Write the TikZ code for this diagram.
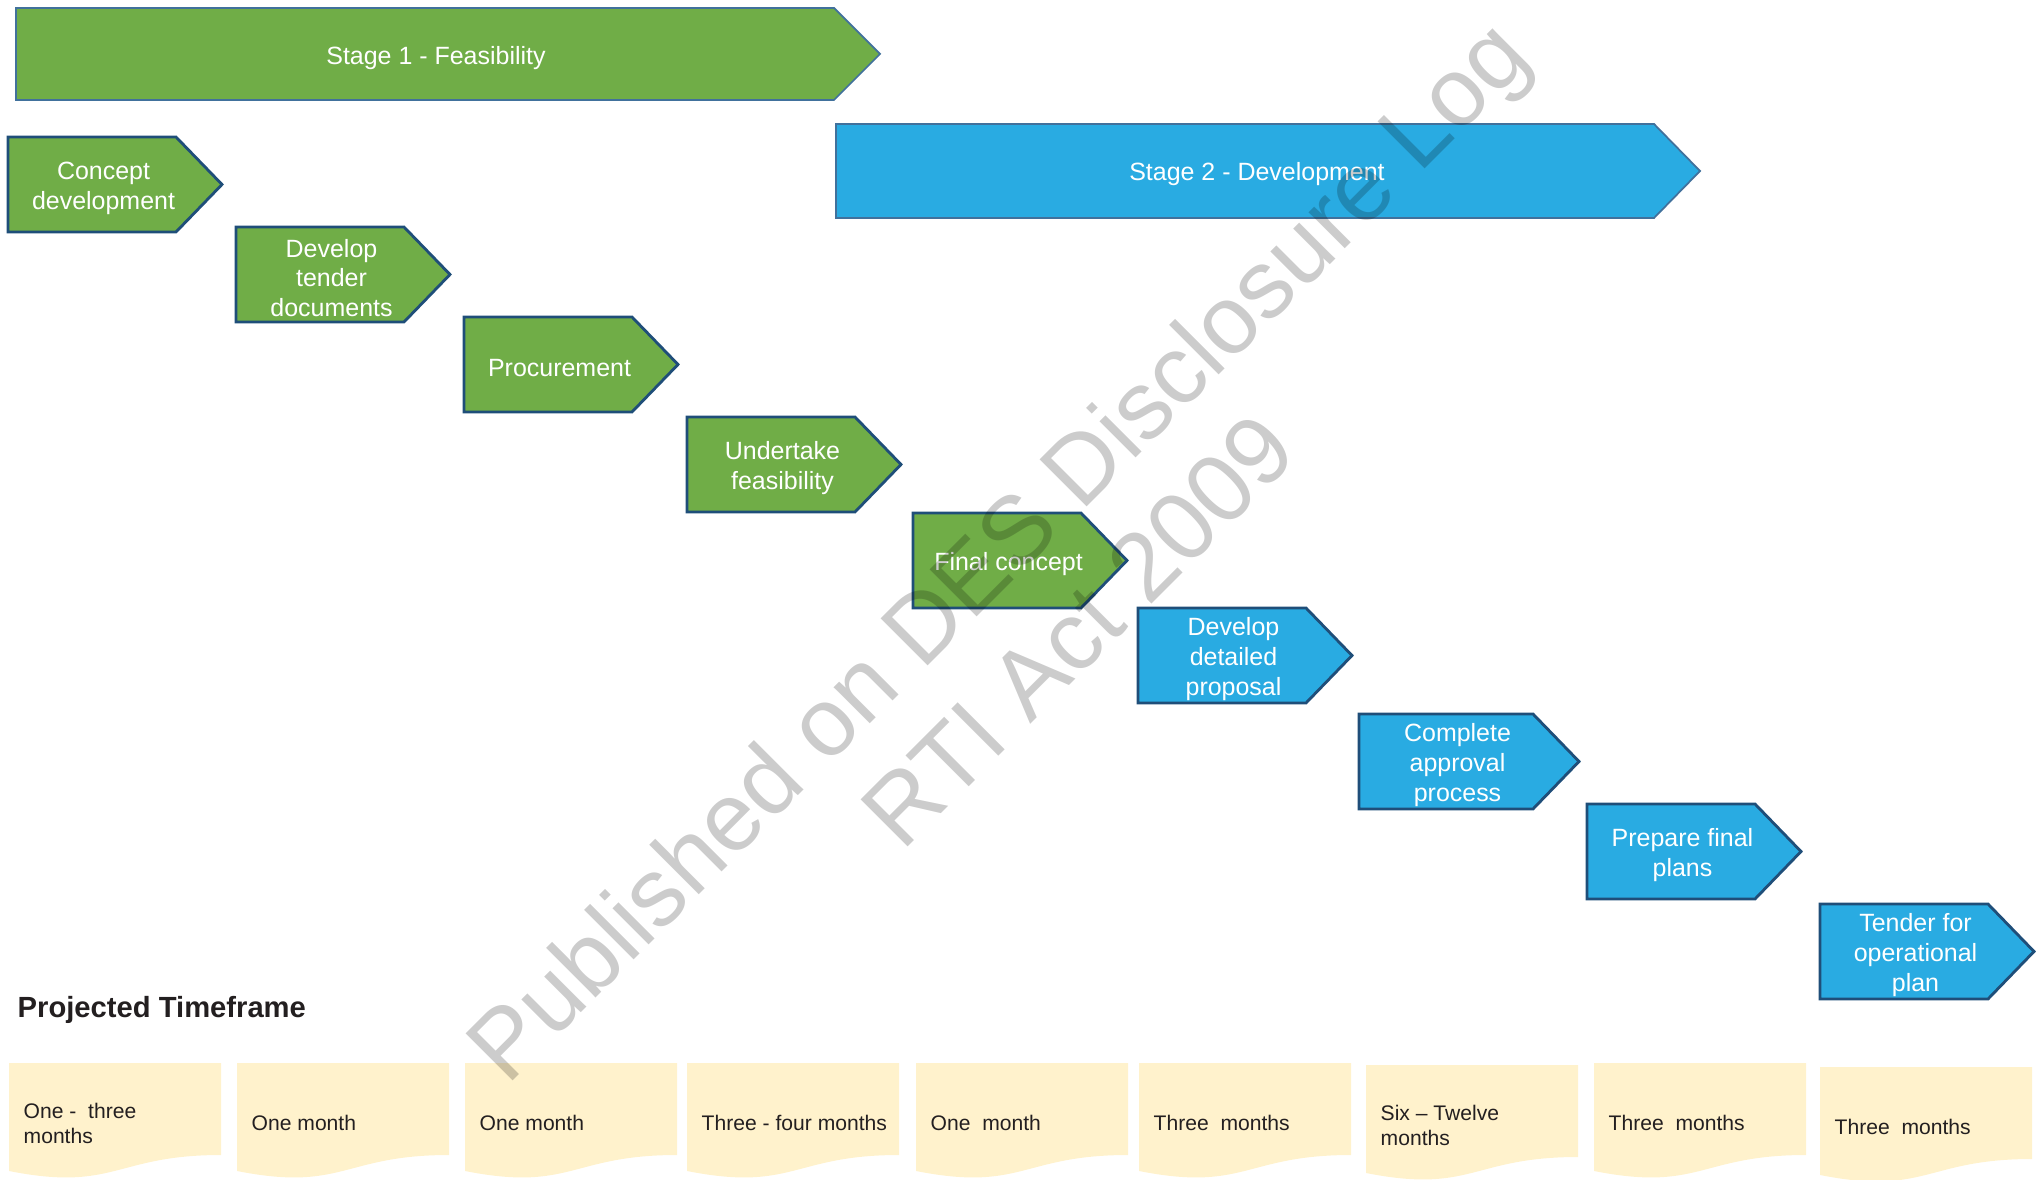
\documentclass[tikz,border=0pt]{standalone}
\usepackage{fontspec}
\setmainfont{Liberation Sans}
\usetikzlibrary{calc}

\definecolor{stepgreen}{HTML}{70AD47}
\definecolor{stepblue}{HTML}{29ABE2}
\definecolor{stepline}{HTML}{1F4E79}
\definecolor{stageline}{HTML}{41719C}
\definecolor{docfill}{HTML}{FFF2CC}
\definecolor{doctext}{HTML}{231F20}

\begin{document}
\begin{tikzpicture}[x=0.01cm, y=-0.01cm,
    stageshape/.style={line width=0.5pt, draw=stageline},
    stepshape/.style={line width=0.8pt, draw=stepline, line join=miter},
    steplabel/.style={text=white, align=center, inner sep=0pt, font=\fontsize{7.1}{8.5}\selectfont},
    doclabel/.style={text=doctext, align=left, anchor=west, inner sep=0pt, font=\fontsize{6}{7.1}\selectfont},
    watermark/.style={text=black, text opacity=0.2, align=center, font=\fontsize{27.5}{32.5}\selectfont}]
      \useasboundingbox (0,0) rectangle (2043,1180);

      %► Stage bars
      \draw[stageshape, fill=stepgreen] (16,8) -- (834,8) -- (880,54) -- (834,100) -- (16,100) -- cycle;
      \node[steplabel] (stage1) at (436,58) {Stage 1 - Feasibility};
      \draw[stageshape, fill=stepblue] (836,124) -- (1654,124) -- (1700,171) -- (1654,218) -- (836,218) -- cycle;
      \node[steplabel] (stage2) at (1257,174) {Stage 2 - Development};

      %► Step arrows: name / left / top / width / colour / text
      \foreach \name/\x/\y/\w/\col/\txt in {
          concept/8/137/214/stepgreen/{Concept\\development},
          tender/236/227/214/stepgreen/{Develop\\tender\\documents},
          procure/464/317/214/stepgreen/{Procurement},
          feasib/687/417/214/stepgreen/{Undertake\\feasibility},
          final/913/513/214/stepgreen/{Final concept},
          proposal/1138/608/214/stepblue/{Develop\\detailed\\proposal},
          approval/1359/714/220/stepblue/{Complete\\approval\\process},
          plans/1587/804/214/stepblue/{Prepare final\\plans},
          operational/1820/904/214/stepblue/{Tender for\\operational\\plan}}{
        \draw[stepshape, fill=\col] (\x,\y) -- ({\x+\w-46},\y) -- ({\x+\w},{\y+47.5})
              -- ({\x+\w-46},{\y+95}) -- (\x,{\y+95}) -- cycle;
        \node[steplabel] (\name) at ({\x+(\w-23)/2},{\y+51}) {\txt};
      }

      %► Timeframe heading
      \node[anchor=west, inner sep=0pt, text=doctext, font=\fontsize{8.3}{10}\selectfont\bfseries]
            (title) at (17,1010) {Projected Timeframe};

      %► Timeframe documents: name / left / top / text
      \foreach \name/\x/\y/\txt in {
          t1/9/1063/{One - \ three\\months},
          t2/237/1063/{One month},
          t3/465/1063/{One month},
          t4/687/1063/{Three - four months},
          t5/916/1063/{One \ month},
          t6/1139/1063/{Three \ months},
          t7/1366/1065/{Six – Twelve\\months},
          t8/1594/1063/{Three \ months},
          t9/1820/1067/{Three \ months}}{
        \fill[docfill] (\x,\y) -- ({\x+212},\y) -- ({\x+212},{\y+92})
              .. controls ({\x+106},{\y+92}) and ({\x+106},{\y+129}) .. (\x,{\y+108}) -- cycle;
        \node[doclabel] (\name) at ({\x+14},{\y+60}) {\txt};
      }

      %► Watermark
      \node[watermark, rotate=45] (wm) at (1037,589) {Published on DES Disclosure Log\\RTI Act 2009};
    \end{tikzpicture}
\end{document}
